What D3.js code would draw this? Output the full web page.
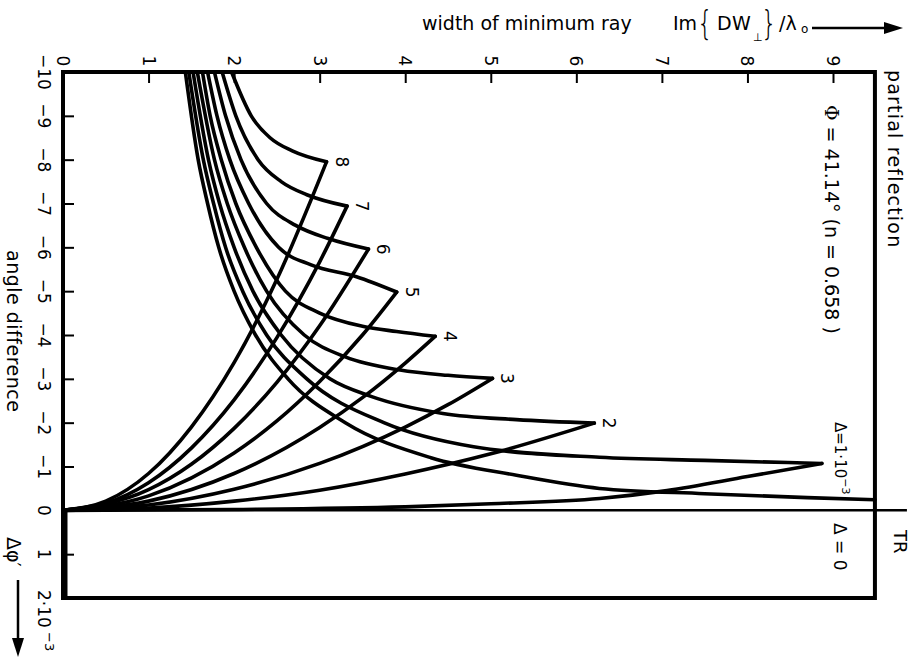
<!doctype html>
<html>
<head>
<meta charset="utf-8">
<script src="https://cdnjs.cloudflare.com/ajax/libs/d3/7.8.5/d3.min.js"></script>
<style>
  body { margin: 0; background: #fff; }
  text { font-family: "DejaVu Sans", sans-serif; fill: #000; }
</style>
</head>
<body>
<svg width="913" height="657"></svg>
<script>
// ticks
var widthTicks = [1, 2, 3, 4, 5, 6, 7, 8, 9];
var widthLabels = [0, 1, 2, 3, 4, 5, 6, 7, 8, 9];
var angleTicks = [-9, -8, -7, -6, -5, -4, -3, -2, -1, 1];
var angleLabels = [-10, -9, -8, -7, -6, -5, -4, -3, -2, -1, 0, 1, 2];

// corner points where the two branches of each curve meet
var curveLabels = [2, 3, 4, 5, 6, 7, 8];
var peakWidth = [8.87, 6.21, 5.02, 4.35, 3.90, 3.57, 3.32, 3.08];
var peakAngle = [-1.07, -1.99, -3.01, -3.97, -4.98, -5.96, -6.94, -7.95];

// upper branches (from the -10 edge down to the corner), [width, angle]
var upperBranches = [
  [[1.43,-10],[1.58,-8],[1.69,-7],[1.82,-6],[2.0,-5],[2.25,-4],[2.63,-3],[3.3,-2],[4.3,-1.2],[5.3,-0.8],[6.27,-0.5],[7.5,-0.38],[8.7,-0.29],[9.49,-0.24]],
  [[1.47,-10],[1.64,-8],[1.76,-7],[1.9,-6],[2.1,-5],[2.38,-4],[2.85,-3],[3.75,-2],[4.8,-1.45],[6.27,-1.21],[7.5,-1.14],[8.87,-1.07]],
  [[1.52,-10],[1.7,-8],[1.83,-7],[2.0,-6],[2.22,-5],[2.55,-4],[3.12,-3],[3.6,-2.6],[4.44,-2.21],[5.3,-2.07],[6.21,-1.99]],
  [[1.57,-10],[1.77,-8],[1.92,-7],[2.12,-6],[2.38,-5],[2.82,-4],[3.3,-3.5],[3.94,-3.2],[4.5,-3.08],[5.02,-3.01]],
  [[1.63,-10],[1.72,-9],[1.85,-8],[2.02,-7],[2.26,-6],[2.6,-5],[3.0,-4.5],[3.5,-4.2],[3.9,-4.08],[4.35,-3.97]],
  [[1.69,-10],[1.8,-9],[1.95,-8],[2.17,-7],[2.52,-6],[2.9,-5.6],[3.43,-5.33],[3.9,-4.98]],
  [[1.77,-10],[1.9,-9],[2.08,-8],[2.38,-7],[2.72,-6.5],[3.1,-6.2],[3.57,-5.96]],
  [[1.86,-10],[2.02,-9],[2.28,-8],[2.55,-7.5],[2.85,-7.2],[3.32,-6.94]],
  [[1.97,-10],[2.2,-9],[2.42,-8.5],[2.68,-8.2],[3.08,-7.95]]
];

// lower branches (from the origin up to the corner), [width, angle]
var lowerBranches = [
  [[0,0],[2,-0.02],[4,-0.08],[5,-0.15],[6.27,-0.27],[7.06,-0.45],[8,-0.77],[8.87,-1.07]],
  [[0,0],[1,-0.05],[2,-0.21],[3,-0.46],[4,-0.83],[5,-1.29],[6.21,-1.99]],
  [[0,0],[1,-0.12],[2,-0.48],[3,-1.07],[4,-1.9],[4.5,-2.41],[5.02,-3.01]],
  [[0,0],[1,-0.21],[2,-0.84],[3,-1.89],[3.5,-2.57],[4,-3.36],[4.35,-3.97]],
  [[0,0],[1,-0.33],[2,-1.31],[2.5,-2.04],[3,-2.94],[3.5,-4.0],[3.9,-4.98]],
  [[0,0],[1,-0.47],[1.5,-1.05],[2,-1.87],[2.5,-2.92],[3,-4.21],[3.57,-5.96]],
  [[0,0],[0.5,-0.16],[1,-0.63],[1.5,-1.42],[2,-2.52],[2.5,-3.94],[3,-5.67],[3.32,-6.94]],
  [[0,0],[0.5,-0.21],[1,-0.84],[1.5,-1.9],[2,-3.37],[2.5,-5.27],[3.08,-7.95]]
];

var svg = d3.select("svg");

// plot is drawn turned a quarter: width runs to the right, angle runs down
var x = d3.scaleLinear().domain([0, 9]).range([63, 833]);
var y = d3.scaleLinear().domain([-10, 2]).range([72, 598]);
var wMax = 9.49;

function vtext(px, py, str, size, anchor) {
  return svg.append("text")
    .attr("transform", "translate(" + px + "," + py + ") rotate(90)")
    .attr("text-anchor", anchor || "middle")
    .attr("dominant-baseline", "central")
    .style("font-size", size + "px")
    .text(str);
}

// frame
svg.append("rect")
  .attr("x", x(0)).attr("y", y(-10))
  .attr("width", x(wMax) - x(0)).attr("height", y(2) - y(-10))
  .attr("fill", "none").attr("stroke", "#000").attr("stroke-width", 4);
svg.append("line")
  .attr("x1", x(0) + 3).attr("x2", x(0) + 3).attr("y1", y(0)).attr("y2", y(2))
  .attr("stroke", "#000").attr("stroke-width", 3);

// zero line, runs out past the frame for TR
svg.append("line")
  .attr("x1", x(0)).attr("x2", x(wMax) + 32)
  .attr("y1", y(0)).attr("y2", y(0))
  .attr("stroke", "#000").attr("stroke-width", 2.5);

// ticks
var topAxis = d3.axisTop(x).tickValues(widthTicks).tickSizeInner(-11).tickSizeOuter(0).tickFormat("");
svg.append("g").attr("transform", "translate(0," + y(-10) + ")").call(topAxis)
  .call(g => g.select(".domain").remove())
  .selectAll("line").attr("stroke-width", 2);
var leftAxis = d3.axisLeft(y).tickValues(angleTicks).tickSizeInner(-11).tickSizeOuter(0).tickFormat("");
svg.append("g").attr("transform", "translate(" + x(0) + ",0)").call(leftAxis)
  .call(g => g.select(".domain").remove())
  .selectAll("line").attr("stroke-width", 2);

// tick labels, turned like the rest
widthLabels.forEach(function (d) { vtext(x(d), y(-10) - 11, d, 17); });
angleLabels.forEach(function (d) {
  if (d === 2) {
    var t = vtext(x(0) - 19, y(d) - 8, "", 17, "start");
    t.append("tspan").text("2·10");
    t.append("tspan").attr("dy", -6).style("font-size", "13px").text(" −3");
  } else {
    vtext(x(0) - 19, y(d), d < 0 ? "−" + Math.abs(d) : d, 17);
  }
});

// curves
var line = d3.line().x(d => x(d[0])).y(d => y(d[1])).curve(d3.curveMonotoneX);
svg.append("g").selectAll("path").data(upperBranches.concat(lowerBranches)).join("path")
  .attr("d", line)
  .attr("fill", "none").attr("stroke", "#000").attr("stroke-width", 3.6)
  .attr("stroke-linecap", "round").attr("stroke-linejoin", "round");

// curve numbers next to the corners
curveLabels.forEach(function (n) {
  vtext(x(peakWidth[n - 1]) + 15, y(peakAngle[n - 1]), n, 17);
});

// annotations
svg.append("text").attr("x", 422).attr("y", 30).style("font-size", "19px").text("width of minimum ray");
svg.append("text").attr("x", 673).attr("y", 30).style("font-size", "19px").text("Im");
svg.append("text").attr("transform", "translate(697,35) scale(1,1.35)").style("font-size", "25px").style("font-weight", "200").text("{");
svg.append("text").attr("x", 717).attr("y", 30).style("font-size", "19px").text("D");
svg.append("text").attr("x", 732).attr("y", 30).style("font-size", "19px").text("W");
svg.append("text").attr("x", 753).attr("y", 41).style("font-size", "11px").text("⊥");
svg.append("text").attr("transform", "translate(761,35) scale(1,1.35)").style("font-size", "25px").style("font-weight", "200").text("}");
svg.append("text").attr("x", 779).attr("y", 30).style("font-size", "19px").text("/λ");
svg.append("text").attr("x", 801).attr("y", 33).style("font-size", "12px").text("o");
svg.append("line").attr("x1", 812).attr("x2", 886).attr("y1", 28).attr("y2", 28)
  .attr("stroke", "#000").attr("stroke-width", 2.5);
svg.append("path").attr("d", "M884,22 L903,28 L884,34 Z").attr("fill", "#000");

vtext(14, 250, "angle difference", 19, "start").style("letter-spacing", "0.5px");
vtext(14, 537, "Δφ′", 19, "start");
svg.append("line").attr("x1", 18).attr("x2", 18).attr("y1", 580).attr("y2", 640)
  .attr("stroke", "#000").attr("stroke-width", 2.5);
svg.append("path").attr("d", "M12,638 L18,657 L24,638 Z").attr("fill", "#000");

vtext(895, 70, "partial reflection", 19, "start").style("letter-spacing", "1.2px");
var phi = vtext(832, 105, "", 19, "start");
phi.append("tspan").style("font-family", "DejaVu Serif").text("Φ");
phi.append("tspan").text(" = 41.14°   (n = 0.658 )");
var dl = vtext(840, 422, "Δ=1·10", 15, "start");
dl.append("tspan").attr("dy", -6).style("font-size", "11px").text("−3");
vtext(840, 523, "Δ = 0", 17, "start");
vtext(900, 530, "TR", 18, "start");
</script>
</body>
</html>
